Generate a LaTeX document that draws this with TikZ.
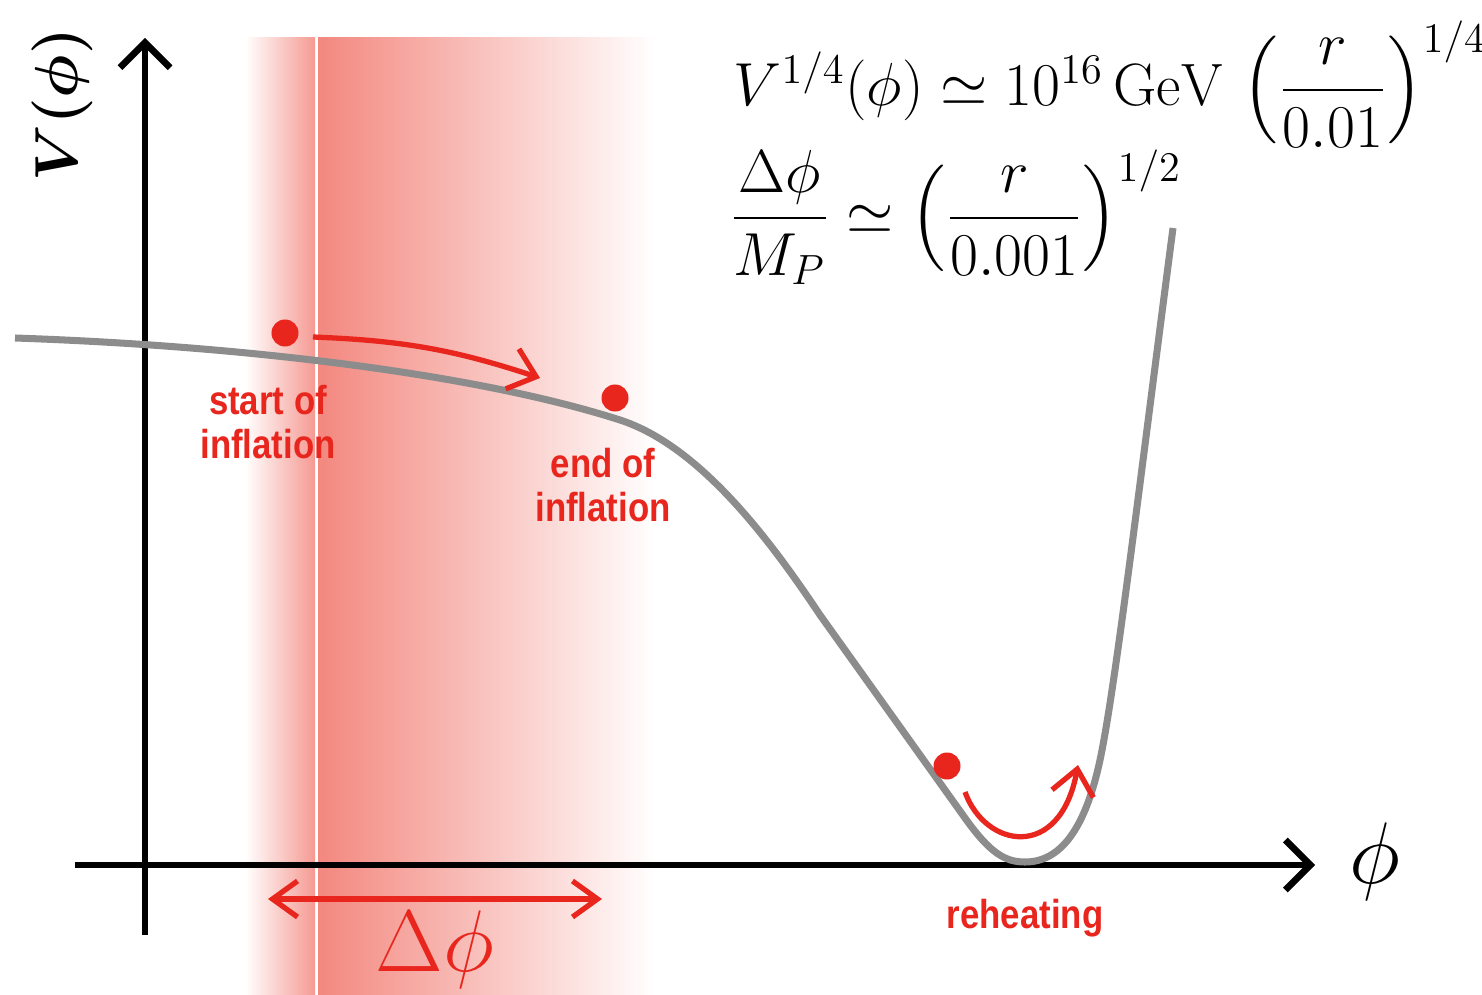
\documentclass[tikz,border=0pt]{standalone}
\usepackage{amsmath,amssymb}
\usepackage{fontspec}
\newfontfamily\stagefont[FakeStretch=0.86]{Liberation Sans}
\usetikzlibrary{arrows.meta,calc}
\definecolor{infred}{RGB}{232,38,30}
\definecolor{bandred}{RGB}{243,136,127}
\definecolor{potgray}{RGB}{140,140,140}
\tikzset{
  ball/.style={
    shape = circle,
    fill = infred,
    inner sep = 0pt,
    minimum size = 0.27cm
  },
  axis/.style={
    line width = 1.9pt,
    -{Straight Barb[length=0.25cm,width=0.5cm,line width=1.9pt]}
  },
  flow/.style={
    infred,
    line width = 1.5pt,
    -{Straight Barb[length=0.25cm,width=0.42cm,line width=1.5pt]}
  },
  flowboth/.style={
    infred,
    line width = 1.5pt,
    {Straight Barb[length=0.25cm,width=0.36cm,line width=1.5pt]}-{Straight Barb[length=0.25cm,width=0.36cm,line width=1.5pt]}
  },
  potential/.style={
    potgray,
    line width = 2pt
  },
  stage/.style={
    infred,
    align = center,
    font = \stagefont\bfseries\fontsize{11.5}{12.5}\selectfont
  }
}

\begin{document}
\begin{tikzpicture}[x=0.01cm,y=-0.01cm]
        \useasboundingbox (0,0) rectangle (1482,994);
        % field range band
        \shade[left color=white, right color=bandred!85] (245,38) rectangle (315,994);
        \shade[left color=bandred, right color=white] (318,38) rectangle (655,994);
        % axes
        \coordinate (ybot) at (145,935);
        \coordinate (ytop) at (145,38);
        \coordinate (xleft) at (75,865);
        \coordinate (xright) at (1315,865);
        \draw[axis] (ybot)--(ytop);
        \draw[axis] (xleft)--(xright);
        \node[rotate=90] (vlabel) at (62,105) {\fontsize{18}{22}\selectfont $\boldsymbol{V(\phi)}$};
        \node (philabel) at (1375,862) {\fontsize{23}{26}\selectfont $\phi$};
        % potential
        \draw[potential] (15,338) .. controls (250,346) and (480,375) .. (620,420)
          .. controls (700,446) and (770,540) .. (820,615)
          -- (965,818)
          .. controls (990,853) and (1005,862) .. (1025,862)
          .. controls (1060,862) and (1085,830) .. (1100,760)
          .. controls (1115,690) and (1140,480) .. (1173,228);
        % field positions
        \node[ball] (start) at (285,333) {};
        \node[ball] (end) at (615,398) {};
        \node[ball] (reheat) at (947,766) {};
        \coordinate (rollA) at (313,337);
        \coordinate (rollB) at (540,378);
        \coordinate (oscA) at (965,792);
        \coordinate (oscB) at (1078,765);
        \draw[flow] (rollA) to[bend left=8] (rollB);
        \draw[flow] (oscA) .. controls (985,848) and (1060,862) .. (oscB);
        \node[stage] (startlabel) at (268,422) {start of\\inflation};
        \node[stage] (endlabel) at (603,485) {end of\\inflation};
        \node[stage] (reheatlabel) at (1025,918) {reheating};
        % field excursion
        \coordinate (dleft) at (268,899);
        \coordinate (dright) at (602,899);
        \draw[flowboth] (dleft)--(dright);
        \node[infred] (dphi) at (435,950) {\fontsize{23}{26}\selectfont $\Delta\phi$};
        % formulas
        \node[anchor=west,inner sep=0pt] (scale) at (733,84) {\fontsize{17}{20}\selectfont
          $V^{1/4}(\phi) \simeq 10^{16}\,\mathrm{GeV}\,\left(\dfrac{r}{0.01}\right)^{1/4}$};
        \node[anchor=west,inner sep=0pt] (lyth) at (729,217) {\fontsize{16.8}{20}\selectfont
          $\dfrac{\Delta\phi}{M_P} \simeq \left(\dfrac{r}{0.001}\right)^{1/2}$};
    \end{tikzpicture}
\end{document}
